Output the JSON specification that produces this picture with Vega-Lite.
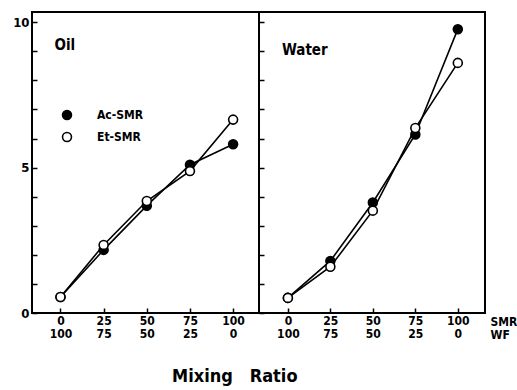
{
  "$schema": "https://vega.github.io/schema/vega-lite/v6.json",
  "padding": {"top": 11, "left": 11, "right": 0, "bottom": 0},
  "bounds": "flush",
  "data": {"values": [
    {"medium": "Oil", "series": "Ac-SMR", "smr": 0, "value": 0.55},
    {"medium": "Oil", "series": "Ac-SMR", "smr": 25, "value": 2.17},
    {"medium": "Oil", "series": "Ac-SMR", "smr": 50, "value": 3.69},
    {"medium": "Oil", "series": "Ac-SMR", "smr": 75, "value": 5.1},
    {"medium": "Oil", "series": "Ac-SMR", "smr": 100, "value": 5.8},
    {"medium": "Oil", "series": "Et-SMR", "smr": 0, "value": 0.55},
    {"medium": "Oil", "series": "Et-SMR", "smr": 25, "value": 2.34},
    {"medium": "Oil", "series": "Et-SMR", "smr": 50, "value": 3.85},
    {"medium": "Oil", "series": "Et-SMR", "smr": 75, "value": 4.88},
    {"medium": "Oil", "series": "Et-SMR", "smr": 100, "value": 6.65},
    {"medium": "Water", "series": "Ac-SMR", "smr": 0, "value": 0.52},
    {"medium": "Water", "series": "Ac-SMR", "smr": 25, "value": 1.79},
    {"medium": "Water", "series": "Ac-SMR", "smr": 50, "value": 3.8},
    {"medium": "Water", "series": "Ac-SMR", "smr": 75, "value": 6.14},
    {"medium": "Water", "series": "Ac-SMR", "smr": 100, "value": 9.76},
    {"medium": "Water", "series": "Et-SMR", "smr": 0, "value": 0.52},
    {"medium": "Water", "series": "Et-SMR", "smr": 25, "value": 1.59},
    {"medium": "Water", "series": "Et-SMR", "smr": 50, "value": 3.52},
    {"medium": "Water", "series": "Et-SMR", "smr": 75, "value": 6.36},
    {"medium": "Water", "series": "Et-SMR", "smr": 100, "value": 8.6}
  ]},
  "spacing": 0,
  "resolve": {"scale": {"x": "independent", "y": "independent", "fill": "independent"}, "legend": {"fill": "independent"}},
  "title": {"text": "Mixing\u00a0\u00a0\u00a0Ratio", "orient": "bottom", "anchor": "middle", "fontSize": 18, "fontWeight": "bold", "font": "DejaVu Sans Condensed, Liberation Sans Narrow, DejaVu Sans", "color": "black", "offset": 27, "dx": -30},
  "hconcat": [
    {
      "width": 227,
      "height": 301,
      "transform": [{"filter": "datum.medium === 'Oil'"}],
      "layer": [
        {
          "mark": {"type": "line", "color": "black", "strokeWidth": 1.6},
          "encoding": {
            "x": {"field": "smr", "type": "quantitative", "scale": {"domain": [-16.5, 115], "nice": false, "zero": false},
              "axis": {"values": [0, 25, 50, 75, 100], "tickCount": 20, "format": "d", "title": null, "labelExpr": "[datum.label, '' + (100 - datum.value)]", "tickSize": -5, "labelPadding": 7, "labelLineHeight": 13, "labelOverlap": false}},
            "y": {"field": "value", "type": "quantitative", "scale": {"domain": [0, 10.35], "nice": false},
              "axis": {"values": [0, 1, 2, 3, 4, 5, 6, 7, 8, 9, 10], "tickCount": 20, "format": "d", "title": null, "labelExpr": "datum.value % 5 === 0 ? datum.label : ''", "tickSize": -5, "labelPadding": 8, "labelOverlap": false, "labelFontSize": 13}},
            "detail": {"field": "series"}
          }
        },
        {
          "mark": {"type": "point", "filled": true, "stroke": "black", "strokeWidth": 1.6, "size": 80, "opacity": 1},
          "encoding": {
            "x": {"field": "smr", "type": "quantitative"},
            "y": {"field": "value", "type": "quantitative"},
            "fill": {"field": "series", "type": "nominal", "scale": {"domain": ["Ac-SMR", "Et-SMR"], "range": ["black", "white"]},
              "legend": {"title": null, "orient": "none", "legendX": 29, "legendY": 97, "symbolType": "circle", "symbolStrokeColor": "black", "symbolStrokeWidth": 1.6, "symbolSize": 80, "labelFontSize": 12, "labelFontWeight": "bold", "labelFont": "DejaVu Sans Condensed, Liberation Sans Narrow, DejaVu Sans", "labelColor": "black", "rowPadding": 6, "labelOffset": 24}}
          }
        },
        {
          "data": {"values": [{}]},
          "mark": {"type": "text", "text": "Oil", "align": "left", "baseline": "middle", "fontSize": 15, "fontWeight": "bold", "font": "DejaVu Sans Condensed, Liberation Sans Narrow, DejaVu Sans", "color": "black"},
          "encoding": {"x": {"datum": -3.5}, "y": {"datum": 9.2}}
        }
      ]
    },
    {
      "width": 226,
      "height": 301,
      "transform": [{"filter": "datum.medium === 'Water'"}],
      "layer": [
        {
          "mark": {"type": "line", "color": "black", "strokeWidth": 1.6},
          "encoding": {
            "x": {"field": "smr", "type": "quantitative", "scale": {"domain": [-17, 116], "nice": false, "zero": false},
              "axis": {"values": [0, 25, 50, 75, 100], "tickCount": 20, "format": "d", "title": ["SMR", "WF"], "titleX": 231, "titleY": 3, "titleAlign": "left", "titleBaseline": "top", "titleAnchor": null, "titleFontSize": 12, "titleFontWeight": "bold", "titleLineHeight": 13, "titleFont": "DejaVu Sans Condensed, Liberation Sans Narrow, DejaVu Sans", "titleColor": "black", "labelExpr": "[datum.label, '' + (100 - datum.value)]", "tickSize": -5, "labelPadding": 7, "labelLineHeight": 13, "labelOverlap": false}},
            "y": {"field": "value", "type": "quantitative", "scale": {"domain": [0, 10.35], "nice": false},
              "axis": {"values": [0, 1, 2, 3, 4, 5, 6, 7, 8, 9, 10], "tickCount": 20, "title": null, "labels": false, "tickSize": -5, "labelPadding": 0}},
            "detail": {"field": "series"}
          }
        },
        {
          "mark": {"type": "point", "filled": true, "stroke": "black", "strokeWidth": 1.6, "size": 80, "opacity": 1},
          "encoding": {
            "x": {"field": "smr", "type": "quantitative"},
            "y": {"field": "value", "type": "quantitative"},
            "fill": {"field": "series", "type": "nominal", "scale": {"domain": ["Ac-SMR", "Et-SMR"], "range": ["black", "white"]}, "legend": null}
          }
        },
        {
          "data": {"values": [{}]},
          "mark": {"type": "text", "text": "Water", "align": "left", "baseline": "middle", "fontSize": 15, "fontWeight": "bold", "font": "DejaVu Sans Condensed, Liberation Sans Narrow, DejaVu Sans", "color": "black"},
          "encoding": {"x": {"datum": -3.5}, "y": {"datum": 9.05}}
        }
      ]
    }
  ],
  "config": {
    "view": {"stroke": "black", "strokeWidth": 2},
    "axis": {"grid": false, "domain": false, "tickColor": "black", "tickWidth": 1.5, "labelColor": "black", "labelFont": "DejaVu Sans Condensed, Liberation Sans Narrow, DejaVu Sans", "labelFontWeight": "bold", "labelFontSize": 12}
  }
}
